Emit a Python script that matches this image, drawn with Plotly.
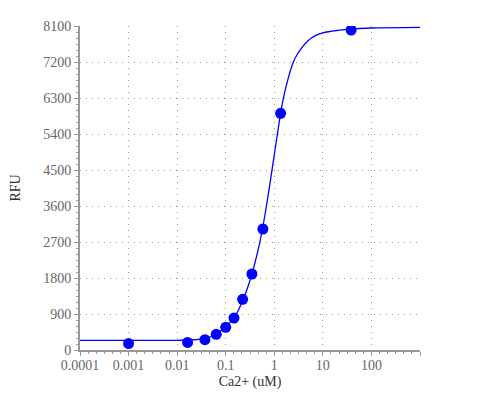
import plotly.graph_objects as go

# measured points
conc_um = [0.001, 0.0164, 0.0373, 0.0638, 0.1, 0.148, 0.223, 0.346, 0.582, 1.35, 38.2]
rfu = [160, 190, 258, 392, 567, 800, 1267, 1900, 3025, 5917, 8000]

# fitted curve
fit_x = [0.0001, 0.001, 0.01, 0.02, 0.04, 0.06, 0.1, 0.15, 0.2, 0.3, 0.5, 0.7,
         1, 1.5, 2, 2.5, 3, 5, 7, 10, 20, 50, 100, 1000]
fit_y = [240, 240, 243, 252, 290, 380, 580, 815, 1100, 1650, 2670, 3650,
         4880, 6230, 6860, 7210, 7400, 7740, 7860, 7930, 7990, 8035, 8050, 8065]

x_ticks = [0.0001, 0.001, 0.01, 0.1, 1, 10, 100, 1000]
x_labels = ["0.0001", "0.001", "0.01", "0.1", "1", "10", "100", ""]

font = "'Times New Roman', 'Liberation Serif', serif"

fig = go.Figure()
fig.add_trace(go.Scatter(
    x=fit_x, y=fit_y, mode="lines", line=dict(color="blue", width=1.3, shape="spline"),
    showlegend=False, hoverinfo="skip",
))
fig.add_trace(go.Scatter(
    x=conc_um, y=rfu, mode="markers", marker=dict(color="blue", size=11),
    showlegend=False,
))

axis_common = dict(
    showline=True, linecolor="#999", linewidth=2,
    ticks="outside", ticklen=4, tickcolor="#999", tickwidth=1,
    showgrid=True, gridcolor="#999", griddash="1px,5px", gridwidth=1,
    zeroline=False, automargin=False,
    tickfont=dict(family=font, size=14, color="#666"),
)

fig.update_xaxes(
    type="log", range=[-4, 3], tickvals=x_ticks, ticktext=x_labels,
    title=dict(text="Ca2+ (uM)", font=dict(family=font, size=14, color="#333"), standoff=4),
    minor=dict(dtick=1 / 6, ticks="outside", ticklen=2, tickcolor="#999", showgrid=False),
    ticklabelstandoff=-3,
    **axis_common,
)
fig.update_yaxes(
    range=[0, 8100], dtick=900,
    title=dict(text="RFU", font=dict(family=font, size=14, color="#333"), standoff=20),
    minor=dict(dtick=150, ticks="outside", ticklen=2, tickcolor="#999", showgrid=False),
    **axis_common,
)
fig.update_layout(
    width=500, height=400,
    margin=dict(l=72, r=88, t=18, b=58),
    plot_bgcolor="white", paper_bgcolor="white",
    font=dict(family=font),
)
fig.write_html("out.html")
